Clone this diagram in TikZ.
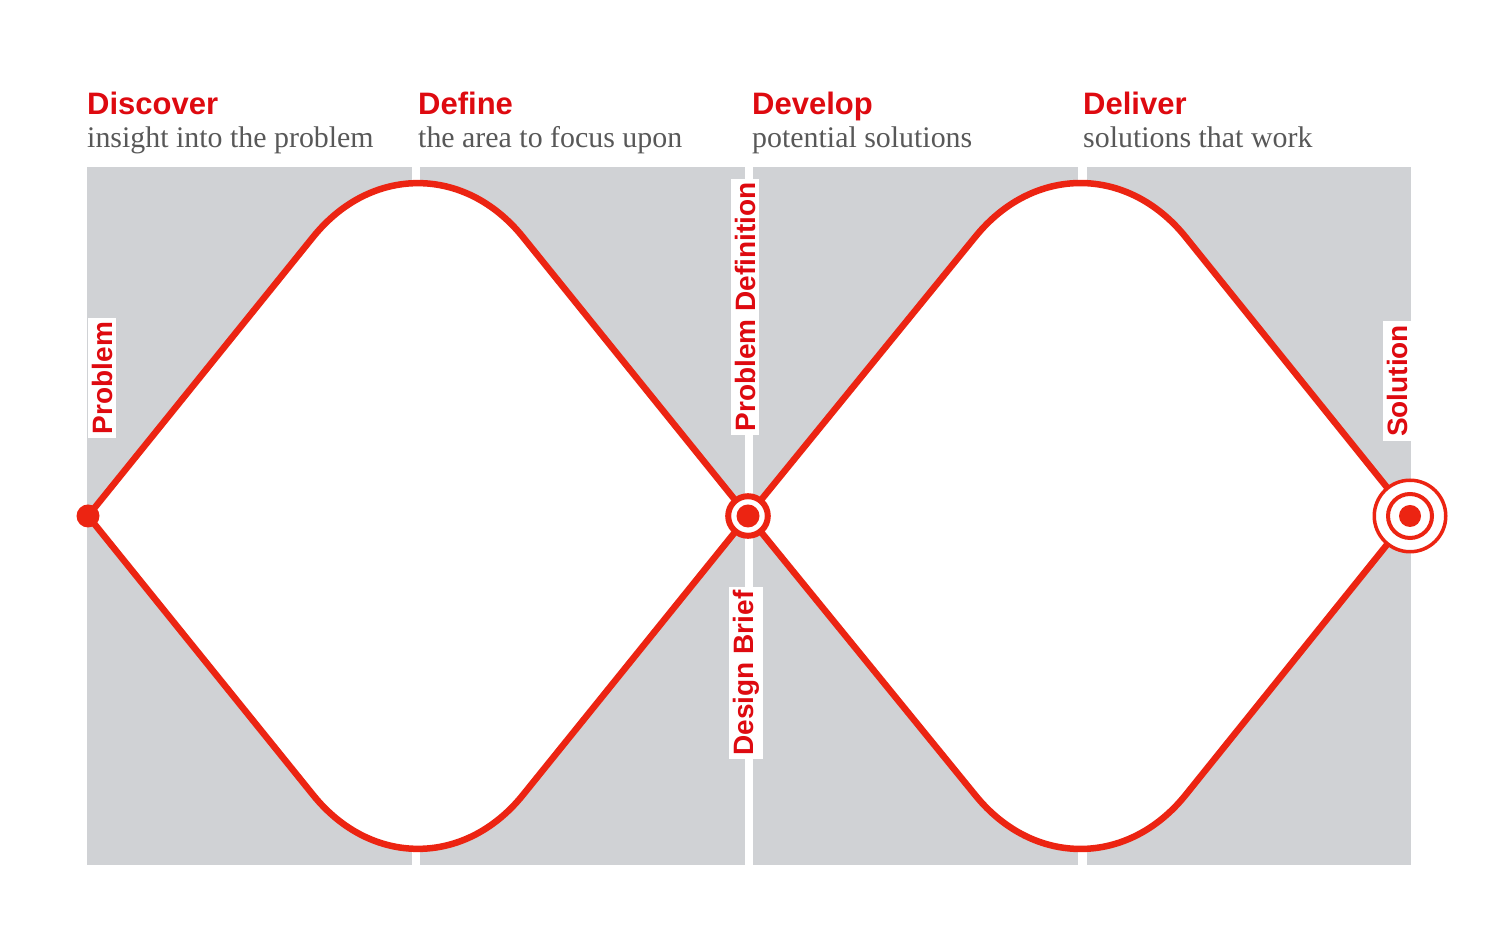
\documentclass[tikz,border=0pt]{standalone}
\usepackage{fontspec}
\setmainfont{Liberation Serif}
\setsansfont{Liberation Sans}
\usetikzlibrary{calc}
\definecolor{ddred}{RGB}{236,36,18}
\definecolor{ddtext}{RGB}{222,10,16}
\definecolor{ddgrey}{RGB}{208,210,213}
\definecolor{ddsub}{RGB}{88,88,88}

\begin{document}
\begin{tikzpicture}
  [x=1pt,y=1pt,
   panel/.style={fill=ddgrey},
   diamondpath/.style={draw=ddred,line width=6.5pt,fill=white,rounded corners=167pt},
   phase/.style={anchor=base west,inner sep=0pt,text=ddtext,
                 font=\sffamily\bfseries\fontsize{31}{36}\selectfont},
   aim/.style={anchor=base west,inner sep=0pt,text=ddsub,
               font=\fontsize{29.9}{34}\selectfont},
   vlabel/.style={rotate=90,fill=white,text=ddtext,inner sep=4pt,
                  font=\sffamily\bfseries\fontsize{28}{32}\selectfont},
   dot/.style={circle,fill=ddred,inner sep=0pt,minimum size=23pt},
   ring/.style={circle,draw=ddred,fill=white,inner sep=0pt,
                line width=6pt,minimum size=39.6pt},
   thinring/.style={circle,draw=ddred,fill=white,inner sep=0pt,line width=3.5pt}]
  \useasboundingbox (0,0) rectangle (1500,950);
  % grey panels, one per phase
  \fill[panel] (87,85) rectangle (412,783);
  \fill[panel] (420,85) rectangle (745,783);
  \fill[panel] (753,85) rectangle (1078,783);
  \fill[panel] (1087,85) rectangle (1411,783);
  % corners of the two diamonds
  \coordinate (start) at (88,434);
  \coordinate (top1) at (418,843);
  \coordinate (mid) at (748,434);
  \coordinate (bot1) at (418,25);
  \coordinate (top2) at (1081,843);
  \coordinate (end) at (1410,434);
  \coordinate (bot2) at (1081,25);
  \path[diamondpath] (start) -- (top1) -- (mid) (start) -- (bot1) -- (mid);
  \path[diamondpath] (mid) -- (top2) -- (end) (mid) -- (bot2) -- (end);
  % phase titles
  \node (discover) at (87,835) [phase] {Discover};
  \node (discoverAim) at (87,802) [aim] {insight into the problem};
  \node (define) at (418,835) [phase] {Define};
  \node (defineAim) at (418,802) [aim] {the area to focus upon};
  \node (develop) at (752,835) [phase] {Develop};
  \node (developAim) at (752,802) [aim] {potential solutions};
  \node (deliver) at (1083,835) [phase] {Deliver};
  \node (deliverAim) at (1083,802) [aim] {solutions that work};
  % upright labels
  \node (problem) at (102,572) [vlabel] {Problem};
  \node (definition) at (745,643) [vlabel] {Problem Definition};
  \node (brief) at (746,277) [vlabel] {Design Brief};
  \node (solution) at (1397,569) [vlabel] {Solution};
  % markers
  \node (startdot) at (start) [dot] {};
  \node (midring) at (mid) [ring] {};
  \node (middot) at (mid) [dot] {};
  \node (endouter) at (end) [thinring,minimum size=71.5pt] {};
  \node (endinner) at (end) [thinring,line width=4pt,minimum size=44pt] {};
  \node (enddot) at (end) [dot,minimum size=22pt] {};
\end{tikzpicture}
\end{document}
